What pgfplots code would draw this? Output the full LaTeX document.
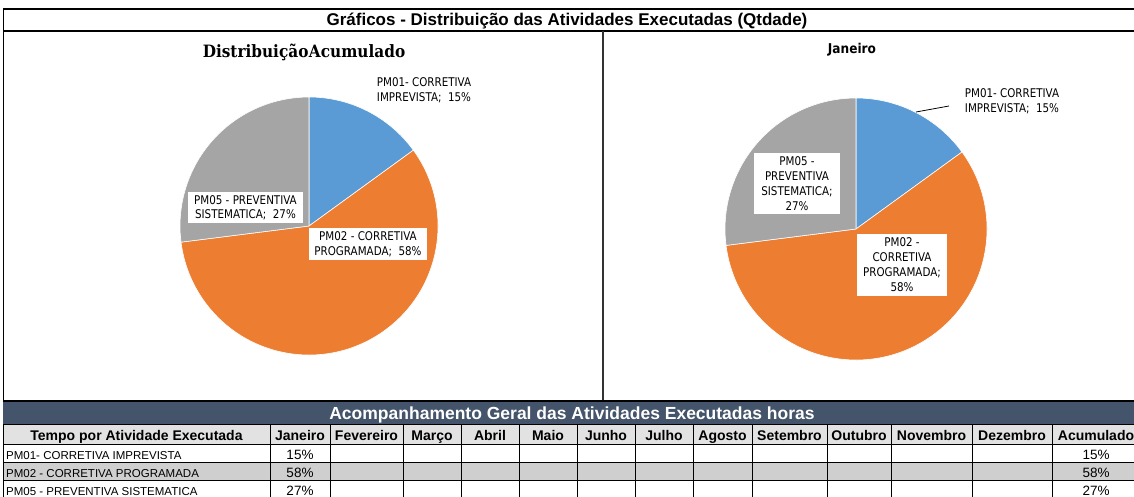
\documentclass[border=0pt]{standalone}
\usepackage{fontspec}
\setmainfont{Liberation Sans}
\newfontfamily\lblfont{DejaVu Sans}[FakeStretch=0.86]
\newfontfamily\lblfontb{DejaVu Sans}[FakeStretch=0.9]
\newfontfamily\serif{DejaVu Serif}[FakeStretch=0.9]
\usepackage{pgfplots}
\pgfplotsset{compat=1.18}

\definecolor{pieblue}{HTML}{5B9BD5}
\definecolor{pieorange}{HTML}{ED7D31}
\definecolor{piegray}{HTML}{A5A5A5}
\definecolor{bandblue}{HTML}{44546A}
\definecolor{hdrgray}{HTML}{E2E2E2}
\definecolor{rowgray}{HTML}{D0CFCF}

% data: PM01, PM02, PM05 (percent)
\def\vA{15}\def\vB{58}\def\vC{27}
\pgfmathsetmacro\aA{90}
\pgfmathsetmacro\aB{\aA-3.6*\vA}
\pgfmathsetmacro\aC{\aB-3.6*\vB}
\pgfmathsetmacro\aD{\aC-3.6*\vC}

\newcommand\fsz[2]{\fontsize{#1}{#2}\selectfont}

\begin{document}
\begin{tikzpicture}[x=1pt,y=-1pt]
\useasboundingbox (0,0) rectangle (1134,497);
\clip (0,0) rectangle (1134,497);
\fill[white] (0,0) rectangle (1134,497);

% ---- frame of the chart area
\draw[line width=2.5pt] (3,9) -- (1134,9);
\draw[line width=2.5pt] (3,31) -- (1134,31);
\draw[line width=1.2pt] (3.5,9) -- (3.5,497);
\draw[line width=1.6pt, black!80] (603,31) -- (603,401);
\node[anchor=base, font=\bfseries\fsz{17}{18}] at (567,26) {Gráficos - Distribuição das Atividades Executadas (Qtdade)};

% ---- left pie
\coordinate (c1) at (309,226);
\begin{axis}[at={(c1)}, anchor=center, width=258pt, height=258pt, scale only axis,
  hide axis, xmin=-1, xmax=1, ymin=-1, ymax=1]
\fill[pieblue, draw=white, line width=0.6pt] (axis cs:0,0) -- ++(\aA:129pt) arc[start angle=\aA, end angle=\aB, radius=129pt] -- cycle;
\fill[pieorange, draw=white, line width=0.6pt] (axis cs:0,0) -- ++(\aB:129pt) arc[start angle=\aB, end angle=\aC, radius=129pt] -- cycle;
\fill[piegray, draw=white, line width=0.6pt] (axis cs:0,0) -- ++(\aC:129pt) arc[start angle=\aC, end angle=\aD, radius=129pt] -- cycle;
\end{axis}
\node[font=\serif\bfseries\fsz{17}{19}] at (304,52) {Distribuição\hspace{0.5pt}Acumulado};
\node[align=center, inner sep=0pt, font=\lblfont\fsz{12}{14.5}] at (424,90) {PM01- CORRETIVA\\IMPREVISTA; \ 15\%};
\node[fill=white, align=center, minimum width=115pt, minimum height=31pt, inner sep=0pt, font=\lblfont\fsz{12}{14.5}] at (245.5,207.5) {PM05 - PREVENTIVA\\SISTEMATICA; \ 27\%};
\node[fill=white, align=center, minimum width=118pt, minimum height=32pt, inner sep=0pt, font=\lblfont\fsz{12}{14.5}] at (368,244) {PM02 - CORRETIVA\\PROGRAMADA; \ 58\%};

% ---- right pie
\coordinate (c2) at (856,229);
\begin{axis}[at={(c2)}, anchor=center, width=262pt, height=262pt, scale only axis,
  hide axis, xmin=-1, xmax=1, ymin=-1, ymax=1]
\fill[pieblue, draw=white, line width=0.6pt] (axis cs:0,0) -- ++(\aA:131pt) arc[start angle=\aA, end angle=\aB, radius=131pt] -- cycle;
\fill[pieorange, draw=white, line width=0.6pt] (axis cs:0,0) -- ++(\aB:131pt) arc[start angle=\aB, end angle=\aC, radius=131pt] -- cycle;
\fill[piegray, draw=white, line width=0.6pt] (axis cs:0,0) -- ++(\aC:131pt) arc[start angle=\aC, end angle=\aD, radius=131pt] -- cycle;
\end{axis}
\node[font=\lblfontb\bfseries\fsz{13.5}{15}] at (852,50) {Janeiro};
\draw[line width=0.8pt] (916,112) -- (949,106);
\node[align=center, inner sep=0pt, font=\lblfont\fsz{12}{14.5}] at (1012,101) {PM01- CORRETIVA\\IMPREVISTA; \ 15\%};
\node[fill=white, align=center, minimum width=86pt, minimum height=61pt, inner sep=0pt, font=\lblfont\fsz{12}{15}] at (797,183.5) {PM05 -\\PREVENTIVA\\SISTEMATICA;\\27\%};
\node[fill=white, align=center, minimum width=90pt, minimum height=62pt, inner sep=0pt, font=\lblfont\fsz{12}{15}] at (902,265) {PM02 -\\CORRETIVA\\PROGRAMADA;\\58\%};

% ---- table
\draw[line width=2pt] (3,401) -- (1134,401);
\fill[bandblue] (3,402) rectangle (1140,424);
\node[anchor=base, text=white, font=\bfseries\fsz{17.5}{19}] at (572,419.5) {Acompanhamento Geral das Atividades Executadas horas};
\fill[hdrgray] (3,424) rectangle (1140,444);
\fill[rowgray] (3,462) rectangle (1140,480);
\foreach \y in {424,444,462,480} \draw[line width=0.9pt] (3,\y) -- (1140,\y);
\foreach \x in {3.5,270,330,403,461,519,577,635,693,752,827,891,972,1052}
  \draw[line width=0.9pt] (\x,424) -- (\x,498);
\foreach \xa/\xb/\t in {3/270/Tempo por Atividade Executada,270/330/Janeiro,330/403/Fevereiro,403/461/Março,461/519/Abril,519/577/Maio,577/635/Junho,635/693/Julho,693/752/Agosto,752/827/Setembro,827/891/Outubro,891/972/Novembro,972/1052/Dezembro,1052/1140/Acumulado}
  \node[anchor=base, inner sep=0pt, font=\bfseries\fsz{14}{16}] at ({(\xa+\xb)/2},440) {\t};
\foreach \yb/\t/\v in {459.5/PM01- CORRETIVA IMPREVISTA/\vA,477.5/PM02 - CORRETIVA PROGRAMADA/\vB,495.5/PM05 - PREVENTIVA SISTEMATICA/\vC}{
  \node[anchor=base west, inner sep=0pt, font=\fsz{11.5}{13}] at (6,\yb) {\t};
  \node[anchor=base, inner sep=0pt, font=\fsz{13.5}{15}] at (300,\yb) {\v\%};
  \node[anchor=base, inner sep=0pt, font=\fsz{13.5}{15}] at (1096,\yb) {\v\%};
}
\end{tikzpicture}
\end{document}
